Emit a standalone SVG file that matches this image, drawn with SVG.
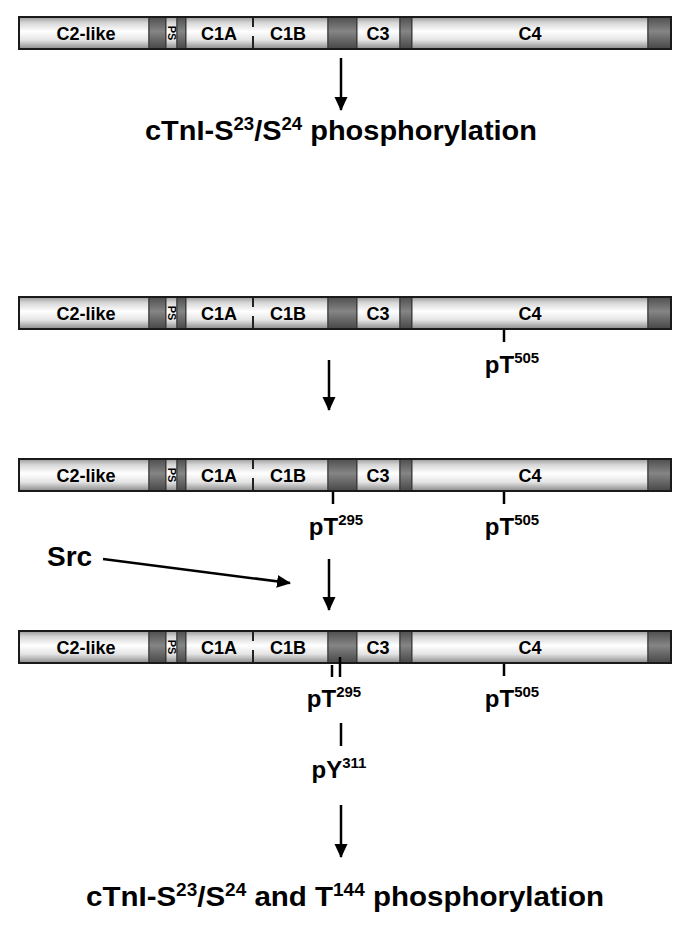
<svg xmlns="http://www.w3.org/2000/svg" width="686" height="926" viewBox="0 0 686 926">
<style>
.lt{fill:url(#gl);stroke:#333;stroke-width:1}
.dk{fill:url(#gd);stroke:#333;stroke-width:1}
.frame{fill:none;stroke:#1a1a1a;stroke-width:2}
.sep{stroke:#222;stroke-width:2;stroke-dasharray:10 9 13}
.bl{font-family:"Liberation Sans",Arial,sans-serif;font-weight:bold;font-size:18px;fill:#000;text-anchor:middle}
.ps{font-family:"Liberation Sans",Arial,sans-serif;font-weight:bold;font-size:11px;fill:#000;text-anchor:middle}
.site{font-family:"Liberation Sans",Arial,sans-serif;font-weight:bold;font-size:24px;fill:#000;text-anchor:middle}
.big{font-family:"Liberation Sans",Arial,sans-serif;font-weight:bold;font-size:28px;fill:#000;text-anchor:middle}
.src{font-family:"Liberation Sans",Arial,sans-serif;font-weight:bold;font-size:28px;fill:#000}
.tick{stroke:#000;stroke-width:2.5}
.arr{stroke:#000;stroke-width:2.5;fill:none;marker-end:url(#ah)}
</style>
<defs>
<linearGradient id="gl" x1="0" y1="0" x2="0" y2="1">
<stop offset="0" stop-color="#9a9a9a"/>
<stop offset="0.18" stop-color="#d6d6d6"/>
<stop offset="0.45" stop-color="#ffffff"/>
<stop offset="0.72" stop-color="#e4e4e4"/>
<stop offset="1" stop-color="#8a8a8a"/>
</linearGradient>
<linearGradient id="gd" x1="0" y1="0" x2="0" y2="1">
<stop offset="0" stop-color="#4e4e4e"/>
<stop offset="0.45" stop-color="#858585"/>
<stop offset="1" stop-color="#474747"/>
</linearGradient>
<marker id="ah" markerUnits="userSpaceOnUse" markerWidth="14" markerHeight="14" viewBox="0 0 14 14" refX="13" refY="7" orient="auto">
<path d="M0,0.5 L14,7 L0,13.5 z" fill="#000"/>
</marker>
</defs>

<g id="bar1" transform="translate(0,17)">
<rect class="lt" x="19" y="0" width="130" height="32"/>
<rect class="dk" x="149" y="0" width="17" height="32"/>
<rect class="lt" x="166" y="0" width="11" height="32"/>
<rect class="dk" x="177" y="0" width="9" height="32"/>
<rect class="lt" x="186" y="0" width="142" height="32"/>
<rect class="dk" x="328" y="0" width="29" height="32"/>
<rect class="lt" x="357" y="0" width="43" height="32"/>
<rect class="dk" x="400" y="0" width="12" height="32"/>
<rect class="lt" x="412" y="0" width="236" height="32"/>
<rect class="dk" x="648" y="0" width="23" height="32"/>
<line class="sep" x1="253" y1="0" x2="253" y2="32"/>
<rect class="frame" x="19" y="0" width="652" height="32"/>
<text class="bl" x="86" y="23">C2-like</text>
<text class="ps" transform="translate(167.5,16) rotate(90)">PS</text>
<text class="bl" x="219" y="23">C1A</text>
<text class="bl" x="288" y="23">C1B</text>
<text class="bl" x="378" y="23">C3</text>
<text class="bl" x="530" y="23">C4</text>
</g>

<g id="bar2" transform="translate(0,297)">
<rect class="lt" x="19" y="0" width="130" height="32"/>
<rect class="dk" x="149" y="0" width="17" height="32"/>
<rect class="lt" x="166" y="0" width="11" height="32"/>
<rect class="dk" x="177" y="0" width="9" height="32"/>
<rect class="lt" x="186" y="0" width="142" height="32"/>
<rect class="dk" x="328" y="0" width="29" height="32"/>
<rect class="lt" x="357" y="0" width="43" height="32"/>
<rect class="dk" x="400" y="0" width="12" height="32"/>
<rect class="lt" x="412" y="0" width="236" height="32"/>
<rect class="dk" x="648" y="0" width="23" height="32"/>
<line class="sep" x1="253" y1="0" x2="253" y2="32"/>
<rect class="frame" x="19" y="0" width="652" height="32"/>
<text class="bl" x="86" y="23">C2-like</text>
<text class="ps" transform="translate(167.5,16) rotate(90)">PS</text>
<text class="bl" x="219" y="23">C1A</text>
<text class="bl" x="288" y="23">C1B</text>
<text class="bl" x="378" y="23">C3</text>
<text class="bl" x="530" y="23">C4</text>
<line class="tick" x1="504" y1="33" x2="504" y2="45"/>
<text class="site" x="512" y="76">pT<tspan dy="-10" font-size="15">505</tspan></text>
</g>

<g id="bar3" transform="translate(0,459)">
<rect class="lt" x="19" y="0" width="130" height="32"/>
<rect class="dk" x="149" y="0" width="17" height="32"/>
<rect class="lt" x="166" y="0" width="11" height="32"/>
<rect class="dk" x="177" y="0" width="9" height="32"/>
<rect class="lt" x="186" y="0" width="142" height="32"/>
<rect class="dk" x="328" y="0" width="29" height="32"/>
<rect class="lt" x="357" y="0" width="43" height="32"/>
<rect class="dk" x="400" y="0" width="12" height="32"/>
<rect class="lt" x="412" y="0" width="236" height="32"/>
<rect class="dk" x="648" y="0" width="23" height="32"/>
<line class="sep" x1="253" y1="0" x2="253" y2="32"/>
<rect class="frame" x="19" y="0" width="652" height="32"/>
<text class="bl" x="86" y="23">C2-like</text>
<text class="ps" transform="translate(167.5,16) rotate(90)">PS</text>
<text class="bl" x="219" y="23">C1A</text>
<text class="bl" x="288" y="23">C1B</text>
<text class="bl" x="378" y="23">C3</text>
<text class="bl" x="530" y="23">C4</text>
<line class="tick" x1="333" y1="33" x2="333" y2="45"/>
<text class="site" x="336" y="76">pT<tspan dy="-10" font-size="15">295</tspan></text>
<line class="tick" x1="504" y1="33" x2="504" y2="45"/>
<text class="site" x="512" y="76">pT<tspan dy="-10" font-size="15">505</tspan></text>
</g>

<g id="src">
<text class="src" x="47" y="566">Src</text>
</g>

<g id="bar4" transform="translate(0,631)">
<rect class="lt" x="19" y="0" width="130" height="32"/>
<rect class="dk" x="149" y="0" width="17" height="32"/>
<rect class="lt" x="166" y="0" width="11" height="32"/>
<rect class="dk" x="177" y="0" width="9" height="32"/>
<rect class="lt" x="186" y="0" width="142" height="32"/>
<rect class="dk" x="328" y="0" width="29" height="32"/>
<rect class="lt" x="357" y="0" width="43" height="32"/>
<rect class="dk" x="400" y="0" width="12" height="32"/>
<rect class="lt" x="412" y="0" width="236" height="32"/>
<rect class="dk" x="648" y="0" width="23" height="32"/>
<line class="sep" x1="253" y1="0" x2="253" y2="32"/>
<rect class="frame" x="19" y="0" width="652" height="32"/>
<text class="bl" x="86" y="23">C2-like</text>
<text class="ps" transform="translate(167.5,16) rotate(90)">PS</text>
<text class="bl" x="219" y="23">C1A</text>
<text class="bl" x="288" y="23">C1B</text>
<text class="bl" x="378" y="23">C3</text>
<text class="bl" x="530" y="23">C4</text>
<line class="tick" x1="332" y1="34" x2="332" y2="46"/>
<line class="tick" x1="340" y1="26" x2="340" y2="46"/>
<text class="site" x="334" y="76">pT<tspan dy="-10" font-size="15">295</tspan></text>
<line class="tick" x1="504" y1="33" x2="504" y2="45"/>
<text class="site" x="512" y="76">pT<tspan dy="-10" font-size="15">505</tspan></text>
<line class="tick" x1="341" y1="92" x2="341" y2="115"/>
<text class="site" x="339" y="147">pY<tspan dy="-10" font-size="15">311</tspan></text>
</g>

<g id="out1">
<text class="big" x="341" y="140" textLength="392" lengthAdjust="spacingAndGlyphs">cTnI-S<tspan dy="-10" font-size="18">23</tspan><tspan dy="10">/S</tspan><tspan dy="-10" font-size="18">24</tspan><tspan dy="10"> phosphorylation</tspan></text>
</g>

<g id="out2">
<text class="big" x="345" y="906" textLength="518" lengthAdjust="spacingAndGlyphs">cTnI-S<tspan dy="-10" font-size="18">23</tspan><tspan dy="10">/S</tspan><tspan dy="-10" font-size="18">24</tspan><tspan dy="10"> and T</tspan><tspan dy="-10" font-size="18">144</tspan><tspan dy="10"> phosphorylation</tspan></text>
</g>

<g id="connectors">
<line class="arr" x1="341" y1="58" x2="341" y2="110"/>
<line class="arr" x1="329" y1="360" x2="329" y2="410"/>
<line class="arr" x1="103" y1="559" x2="290" y2="583"/>
<line class="arr" x1="329" y1="559" x2="329" y2="610"/>
<line class="arr" x1="341" y1="805" x2="341" y2="857"/>
</g>
</svg>
